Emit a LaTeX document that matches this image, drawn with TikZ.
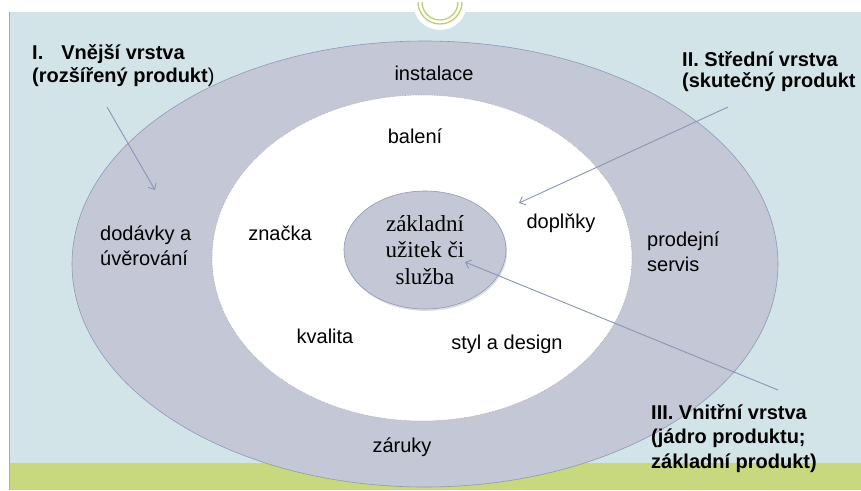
\documentclass[tikz,border=0pt]{standalone}
\usepackage{fontspec}
\setmainfont{Liberation Sans}
\newfontfamily\coreface{Liberation Serif}
\usetikzlibrary{shapes.geometric,shadows,arrows.meta}
\definecolor{slideblue}{HTML}{D3E4E9}
\definecolor{slidegreen}{HTML}{C7D87F}
\definecolor{ringgreen}{HTML}{BFCE6E}
\definecolor{layergrey}{HTML}{C3C7D6}
\definecolor{layeredge}{HTML}{8D99B8}
\definecolor{pointergrey}{HTML}{8A95B5}

\begin{document}
\begin{tikzpicture}[x=1pt, y=-1pt,
  layertext/.style={font=\fontsize{20}{25}\selectfont, inner sep=0pt, align=left},
  layerhead/.style={font=\fontsize{20}{23}\selectfont\bfseries, inner sep=0pt, align=left, anchor=base west},
  pointer/.style={draw=pointergrey, line width=0.9pt, -{Straight Barb[length=5pt, width=9pt]}}]
  \useasboundingbox (0,0) rectangle (861,490);
  % slide background
  \fill[white] (0,0) rectangle (861,490);
  \fill[slideblue] (10,12) rectangle (861,463);
  \fill[slidegreen] (10,463) rectangle (861,490);
  \draw[slidegreen!85!black, line width=0.8pt] (9.5,12) -- (9.5,490);
  \fill[white] (413,3) arc[start angle=180, end angle=0, radius=27] -- cycle;
  \draw[ringgreen, line width=1.3pt] (418,2) arc[start angle=180, end angle=0, radius=22]
                                     (422,2) arc[start angle=180, end angle=0, radius=18];

  % the three layers
  \draw[fill=layergrey, draw=layeredge, line width=0.6pt] (425,264) ellipse [x radius=353pt, y radius=223pt];
  \draw[fill=white, draw=gray!70, densely dotted, line width=0.6pt] (422,258) ellipse [x radius=210pt, y radius=163pt];
  \node[ellipse, fill=layergrey, draw=layeredge, line width=0.6pt, minimum width=162pt, minimum height=118pt,
        drop shadow={shadow xshift=1pt, shadow yshift=-2pt, opacity=0.25}, align=center, inner sep=0pt,
        font=\coreface\fontsize{23}{26.5}\selectfont] (core) at (425,250) {základní\\užitek či\\služba};

  \node[layertext, anchor=base] (install) at (434,80) {instalace};
  \node[layertext, anchor=base] (pack) at (415,143) {balení};
  \node[layertext, anchor=base west] (delivery) at (100,265) {dodávky a\\úvěrování};
  \node[layertext, anchor=base] (brand) at (280,240) {značka};
  \node[layertext, anchor=base] (extras) at (561,228) {doplňky};
  \node[layertext, anchor=base west] (service) at (647,271) {prodejní\\servis};
  \node[layertext, anchor=base] (quality) at (325,343) {kvalita};
  \node[layertext, anchor=base] (styling) at (507,349) {styl a design};
  \node[layertext, anchor=base] (warranty) at (402,452) {záruky};

  % headings and pointers
  \node[layerhead] (outerhead) at (32,82) {I.\hspace{18pt}Vnější vrstva\\(rozšířený produkt{\mdseries )}};
  \node[layerhead, font=\fontsize{20}{21}\selectfont\bfseries] (middlehead) at (682,87) {II. Střední vrstva\\(skutečný produkt};
  \node[layerhead, font=\fontsize{20}{24.5}\selectfont\bfseries] (innerhead) at (651,468) {III. Vnitřní vrstva\\(jádro produktu;\\základní produkt)};

  \coordinate (outertail) at (107,107);
  \coordinate (outertip) at (155,190);
  \coordinate (middletail) at (728,107);
  \coordinate (middletip) at (519,203);
  \coordinate (innertail) at (778,390);
  \coordinate (innertip) at (465,262);
  \draw[pointer] (outertail) -- (outertip);
  \draw[pointer] (middletail) -- (middletip);
  \draw[pointer] (innertail) -- (innertip);
\end{tikzpicture}
\end{document}
